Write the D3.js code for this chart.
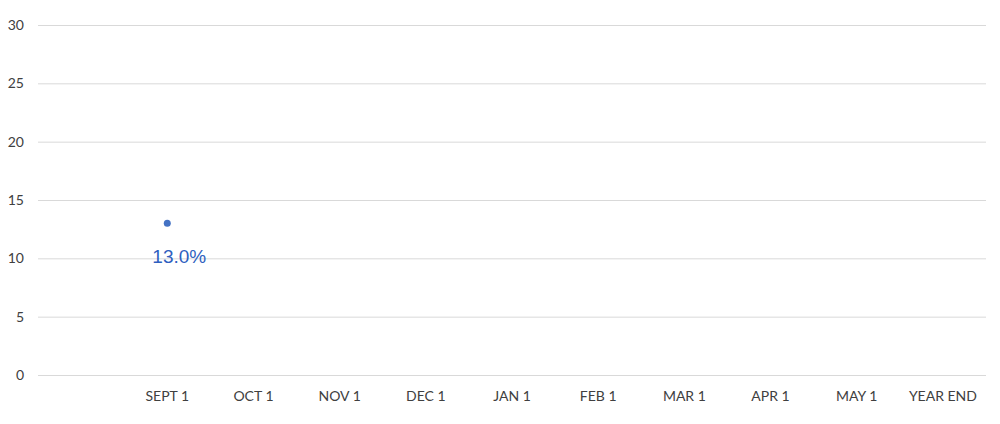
<!DOCTYPE html>
<html>
<head>
<meta charset="utf-8">
<script src="https://cdn.jsdelivr.net/npm/d3@7"></script>
<style>
  body { margin: 0; background: #fff; }
  svg text { font-family: Lato, "Open Sans", sans-serif; }
</style>
</head>
<body>
<div class="chart"></div>
<script>
const categories = ['', 'SEPT 1', 'OCT 1', 'NOV 1', 'DEC 1', 'JAN 1', 'FEB 1', 'MAR 1', 'APR 1', 'MAY 1', 'YEAR END']
const values = [null, 13, null, null, null, null, null, null, null, null, null]
const pointLabels = [null, '13.0%', null, null, null, null, null, null, null, null, null]
const yTicks = [0, 5, 10, 15, 20, 25, 30]

const width = 1000
const height = 424
const margin = { top: 25, right: 14, bottom: 49, left: 38 }

const svg = d3.select('.chart')
  .append('svg')
  .attr('width', width)
  .attr('height', height)

const x = d3.scaleBand()
  .domain(categories.map((d, i) => i))
  .range([margin.left, width - margin.right])

const y = d3.scaleLinear()
  .domain([0, 30])
  .range([height - margin.bottom, margin.top])

// gridlines + y labels
const yAxis = svg.append('g')
  .attr('transform', `translate(${margin.left},0)`)
  .call(d3.axisLeft(y).tickValues(yTicks).tickSize(-(width - margin.left - margin.right)).tickPadding(14))
yAxis.select('.domain').remove()
yAxis.selectAll('line').attr('stroke', '#d9d9d9').attr('stroke-width', 1)
yAxis.selectAll('text').attr('fill', '#404040').style('font-size', '14px')

// x labels
const xAxis = svg.append('g')
  .attr('transform', `translate(0,${height - margin.bottom})`)
  .call(d3.axisBottom(x).tickFormat((i) => categories[i]).tickSize(0).tickPadding(16))
xAxis.select('.domain').remove()
xAxis.selectAll('text').attr('fill', '#404040').style('font-size', '14px')

const pts = values.map((v, i) => ({ i, v, label: pointLabels[i] })).filter((d) => d.v !== null)

svg.selectAll('circle.pt')
  .data(pts)
  .enter()
  .append('circle')
  .attr('class', 'pt')
  .attr('cx', (d) => x(d.i) + x.bandwidth() / 2)
  .attr('cy', (d) => y(d.v))
  .attr('r', 3.5)
  .attr('fill', '#4472c4')

svg.selectAll('text.lbl')
  .data(pts)
  .enter()
  .append('text')
  .attr('class', 'lbl')
  .attr('x', (d) => x(d.i) + x.bandwidth() / 2 + 12)
  .attr('y', (d) => y(d.v) + 40)
  .attr('text-anchor', 'middle')
  .attr('fill', '#2f5fbf')
  .style('font-family', '"Liberation Sans", Arial, sans-serif')
  .style('font-size', '19px')
  .text((d) => d.label)
</script>
</body>
</html>
